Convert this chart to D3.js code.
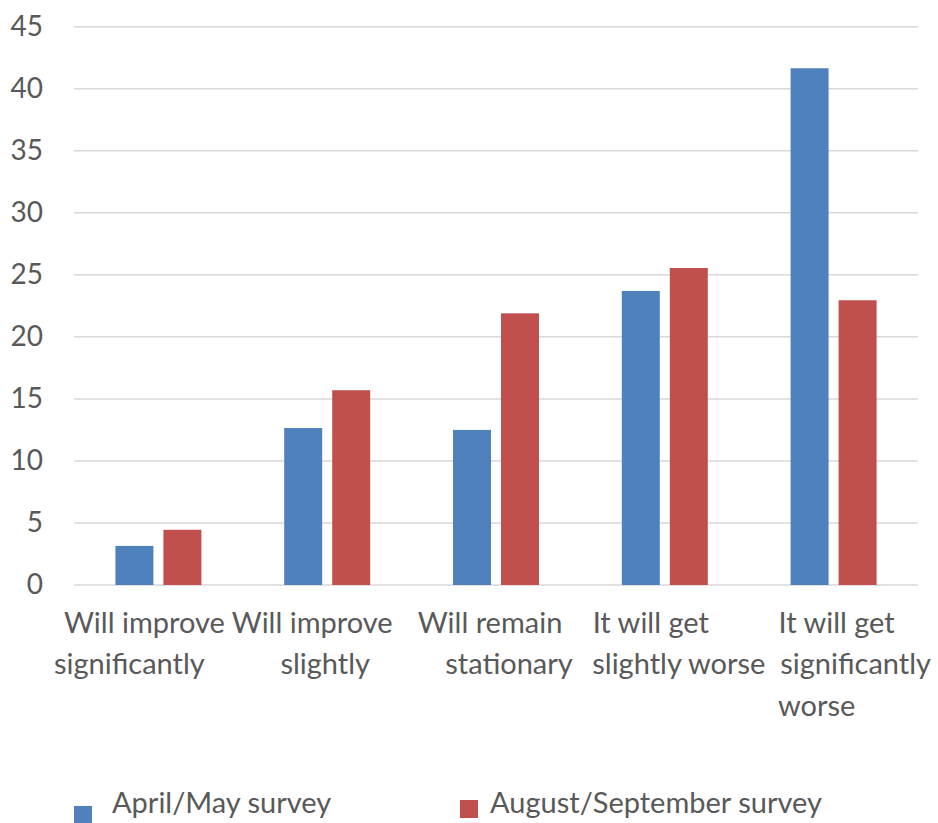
<!DOCTYPE html>
<html>
<head>
<meta charset="utf-8">
<script src="https://cdn.jsdelivr.net/npm/d3@7/dist/d3.min.js"></script>
<style>
  html, body { margin: 0; padding: 0; background: #ffffff; }
  svg { display: block; }
  text { font-family: Lato, "Open Sans", sans-serif; fill: #595959; }
</style>
</head>
<body>
<svg id="chart" width="938" height="823"></svg>
<script>
// Survey outlook categories (each entry holds the wrapped label lines)
const categories = [
  ["Will improve", "significantly"],
  ["Will improve", "slightly"],
  ["Will remain", "stationary"],
  ["It will get", "slightly worse"],
  ["It will get", "significantly", "worse"]
];
const seriesNames = ["April/May survey", "August/September survey"];
const aprilMay = [3.15, 12.65, 12.5, 23.7, 41.65];
const augSep = [4.45, 15.7, 21.9, 25.55, 22.95];
const yTicks = [0, 5, 10, 15, 20, 25, 30, 35, 40, 45];

// Styling / layout
const colors = ["#4f81bd", "#c0504d"];
const plotLeft = 74, plotRight = 918, plotTop = 26.7, plotBottom = 585;
// horizontal nudges of each wrapped label line relative to the category centre
const lineShift = [[-14, -29], [-15, -2], [-6, 13], [-14, 14], [3, 22, -17]];
const lineBaselines = [633, 674, 716];

const svg = d3.select("#chart");
const catKeys = categories.map((c, i) => i);

const y = d3.scaleLinear().domain([0, 45]).range([plotBottom, plotTop]);
const x0 = d3.scaleBand().domain(catKeys).range([plotLeft, plotRight]).paddingInner(0).paddingOuter(0);
const x1 = d3.scaleBand().domain([0, 1]).range([0, x0.bandwidth()])
  .paddingInner(10 / 48).paddingOuter(0.8625);

// Gridlines
svg.append("g")
  .selectAll("line")
  .data(yTicks)
  .join("line")
  .attr("x1", plotLeft).attr("x2", plotRight)
  .attr("y1", d => y(d)).attr("y2", d => y(d))
  .attr("stroke", "#d9d9d9")
  .attr("stroke-width", 1.5);

// Y tick labels
svg.append("g")
  .selectAll("text")
  .data(yTicks)
  .join("text")
  .attr("x", 43)
  .attr("y", d => y(d) - 2)
  .attr("text-anchor", "end")
  .attr("dominant-baseline", "central")
  .style("font-size", "28px")
  .text(d => d);

// Bars
const values = [aprilMay, augSep];
const bars = [];
values.forEach((vals, s) => vals.forEach((v, c) => bars.push({ s, c, v })));
svg.append("g")
  .selectAll("rect")
  .data(bars)
  .join("rect")
  .attr("x", d => x0(d.c) + x1(d.s))
  .attr("width", x1.bandwidth())
  .attr("y", d => y(d.v))
  .attr("height", d => y(0) - y(d.v))
  .attr("fill", d => colors[d.s]);

// Category labels
const labelG = svg.append("g");
categories.forEach((lines, c) => {
  const cx = x0(c) + x0.bandwidth() / 2;
  lines.forEach((line, li) => {
    labelG.append("text")
      .attr("x", cx + lineShift[c][li])
      .attr("y", lineBaselines[li])
      .attr("text-anchor", "middle")
      .style("font-size", "29px")
      .text(line);
  });
});

// Legend
const legend = svg.append("g");
const legendItems = [
  { name: seriesNames[0], color: colors[0], sx: 74, sy: 806, tx: 112 },
  { name: seriesNames[1], color: colors[1], sx: 460, sy: 800, tx: 490 }
];
legendItems.forEach(item => {
  legend.append("rect")
    .attr("x", item.sx).attr("y", item.sy)
    .attr("width", 18).attr("height", 18)
    .attr("fill", item.color);
  legend.append("text")
    .attr("x", item.tx).attr("y", 813)
    .style("font-size", "29px")
    .text(item.name);
});
</script>
</body>
</html>
